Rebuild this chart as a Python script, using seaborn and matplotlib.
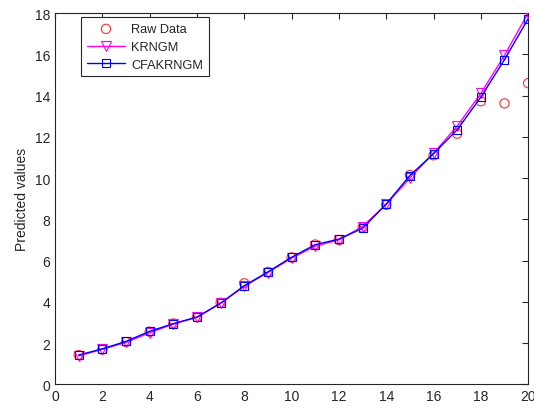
import numpy as np
import pandas as pd
import matplotlib
matplotlib.use("Agg")
import matplotlib.pyplot as plt
import seaborn as sns

x = list(range(1, 21))
raw_data = [1.42, 1.68, 2.05, 2.55, 2.95, 3.25, 3.95, 4.90, 5.45, 6.15,
            6.78, 7.00, 7.60, 8.70, 10.15, 11.10, 12.15, 13.72, 13.62, 14.60]
krngm = [1.38, 1.70, 2.03, 2.50, 2.92, 3.25, 3.93, 4.75, 5.42, 6.12,
         6.70, 7.00, 7.65, 8.72, 10.00, 11.20, 12.52, 14.10, 15.95, 18.00]
cfakrngm = [1.42, 1.72, 2.08, 2.57, 2.94, 3.26, 3.93, 4.78, 5.45, 6.16,
            6.77, 7.04, 7.56, 8.74, 10.12, 11.18, 12.34, 13.92, 15.74, 17.72]

df = pd.DataFrame({"x": x, "raw": raw_data, "krngm": krngm, "cfa": cfakrngm})

sns.set_style("white")
plt.rcParams['font.family'] = ['Liberation Sans', 'DejaVu Sans']
plt.rcParams['font.size'] = 10

fig = plt.figure(figsize=(5.34, 4.10), dpi=100)
ax = fig.add_axes([0.103, 0.0602, 0.886, 0.9056])

sns.scatterplot(data=df, x="x", y="raw", ax=ax, marker="o", s=44,
                facecolors="none", edgecolor="#FF3030", linewidth=0.8,
                label="Raw Data", zorder=3)
sns.lineplot(data=df, x="x", y="krngm", ax=ax, color="#FF00FF", marker="v",
             markersize=6.5, markerfacecolor="none", markeredgecolor="#FF00FF",
             markeredgewidth=0.8, linewidth=1.0, label="KRNGM", zorder=4)
sns.lineplot(data=df, x="x", y="cfa", ax=ax, color="#0000FF", marker="s",
             markersize=5.5, markerfacecolor="none", markeredgecolor="#0000FF",
             markeredgewidth=0.8, linewidth=1.0, label="CFAKRNGM", zorder=5)

ax.set_xlim(0, 20)
ax.set_ylim(0, 18)
ax.set_xticks(np.arange(0, 21, 2))
ax.set_yticks(np.arange(0, 19, 2))
ax.set_xlabel("")
ax.set_ylabel("Predicted values", fontsize=10, color="#262626")
ax.tick_params(direction="in", top=True, right=True, length=4, width=0.8,
               colors="#262626", labelsize=10, labelcolor="#262626")
for sp in ax.spines.values():
    sp.set_visible(True)
    sp.set_color("#262626")
    sp.set_linewidth(0.8)

leg = ax.legend(loc="upper left", bbox_to_anchor=(0.055, 0.988), frameon=True,
                fancybox=False, edgecolor="#262626", framealpha=1,
                handlelength=3.0, borderpad=0.45, labelspacing=0.45,
                handletextpad=0.5, fontsize=9.2, borderaxespad=0)
leg.get_frame().set_linewidth(0.8)

fig.savefig("out.png", dpi=100)
